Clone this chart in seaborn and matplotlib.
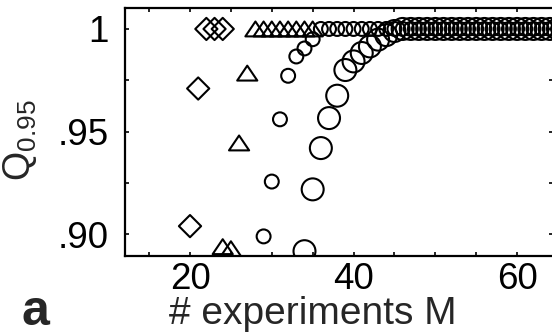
import numpy as np
import pandas as pd
import matplotlib
matplotlib.use("Agg")
import matplotlib.pyplot as plt
from matplotlib.path import Path
from matplotlib.markers import MarkerStyle
from matplotlib.ticker import MultipleLocator, FuncFormatter
import seaborn as sns

# Q_0.95 against number of experiments M, one series per marker type
m_diamond = [20, 21, 22, 23, 24]
q_diamond = [0.904, 0.971, 1.0, 1.0, 1.0]

m_triangle = [24, 25, 26, 27, 28, 29, 30, 31, 32, 33, 34, 35]
q_triangle = [0.894, 0.893, 0.9445, 0.9785, 1.0, 1.0, 1.0, 1.0, 1.0, 1.0, 1.0, 1.0]

m_small = [29, 30, 31, 32, 33, 34, 35, 36, 37, 38, 39, 40, 41, 42, 43, 44, 45,
           46, 47, 48, 49, 50, 51, 52, 53, 54, 55, 56, 57, 58, 59, 60, 61, 62,
           63, 64, 65]
q_small = [0.899, 0.9257, 0.956, 0.9772, 0.9866, 0.9905, 0.995,
           1.0, 1.0, 1.0, 1.0, 1.0, 1.0, 1.0, 1.0, 1.0, 1.0,
           1.0, 1.0, 1.0, 1.0, 1.0, 1.0, 1.0, 1.0, 1.0, 1.0, 1.0, 1.0, 1.0,
           1.0, 1.0, 1.0, 1.0, 1.0, 1.0, 1.0]

m_large = [34, 35, 36, 37, 38, 39, 40, 41, 42, 43, 44, 45, 46, 47, 48, 49, 50,
           51, 52, 53, 54, 55, 56, 57, 58, 59, 60, 61, 62, 63, 64, 65]
q_large = [0.8918, 0.9219, 0.942, 0.9566, 0.9675, 0.980, 0.9842, 0.9883, 0.9915,
           0.9948, 0.997, 0.999, 1.0, 1.0, 1.0, 1.0, 1.0, 1.0, 1.0, 1.0, 1.0,
           1.0, 1.0, 1.0, 1.0, 1.0, 1.0, 1.0, 1.0, 1.0, 1.0, 1.0]

x_tick_labels = {20: "20", 40: "40", 60: "60"}
y_tick_labels = {1000: "1", 950: ".95", 900: ".90"}

sns.set_style("ticks")
plt.rcParams["font.family"] = ["Liberation Sans", "DejaVu Sans"]
plt.rcParams["mathtext.fontset"] = "custom"
plt.rcParams["mathtext.rm"] = "Liberation Sans"
plt.rcParams["mathtext.it"] = "Liberation Sans:italic"

fig = plt.figure(figsize=(5.52, 3.36), dpi=100)
ax = fig.add_axes([125 / 552, 1 - 255.5 / 336, 428.5 / 552, 247.5 / 336])

# wide, flat open triangle
tri = MarkerStyle(Path([(-1, -0.74), (1, -0.74), (0, 0.74), (-1, -0.74)],
                       [Path.MOVETO, Path.LINETO, Path.LINETO, Path.CLOSEPOLY]))

lw = 1.5
common = dict(facecolor="none", edgecolor="black", linewidth=lw, ax=ax, legend=False)
sns.scatterplot(x=m_large, y=q_large, marker="o", s=250, **common)
sns.scatterplot(x=m_small, y=q_small, marker="o", s=100, **common)
sns.scatterplot(x=m_triangle, y=q_triangle, marker=tri, s=210, **common)
sns.scatterplot(x=m_diamond, y=q_diamond, marker="D", s=128, **common)

ax.set_xlim(12.05, 64.45)
ax.set_ylim(0.8897, 1.0102)

ax.xaxis.set_major_locator(MultipleLocator(5))
ax.yaxis.set_major_locator(MultipleLocator(0.025))
ax.xaxis.set_major_formatter(FuncFormatter(
    lambda v, p: x_tick_labels.get(int(round(v)), "") if abs(v - round(v)) < 1e-6 else ""))
ax.yaxis.set_major_formatter(FuncFormatter(
    lambda v, p: y_tick_labels.get(int(round(v * 1000)), "")))

ax.tick_params(axis="both", which="both", direction="in", length=3, width=1.2,
               top=True, right=True, labelsize=26.5, colors="black")
ax.tick_params(axis="x", pad=5)
ax.tick_params(axis="y", pad=12)
for sp in ax.spines.values():
    sp.set_visible(True)
    sp.set_linewidth(1.6)
    sp.set_color("black")

ax.set_xlabel("# experiments M", fontsize=28)
ax.xaxis.set_label_coords((313 - 125) / 428.5, -0.165)
ax.set_ylabel(r"$\mathregular{Q_{0.95}}$", fontsize=27)
ax.yaxis.set_label_coords(-0.2, 0.467)

fig.text(22 / 552, 1 - 325 / 336, "a", fontsize=36, fontweight="bold",
         va="baseline", ha="left")

fig.savefig("out.png", dpi=100)
